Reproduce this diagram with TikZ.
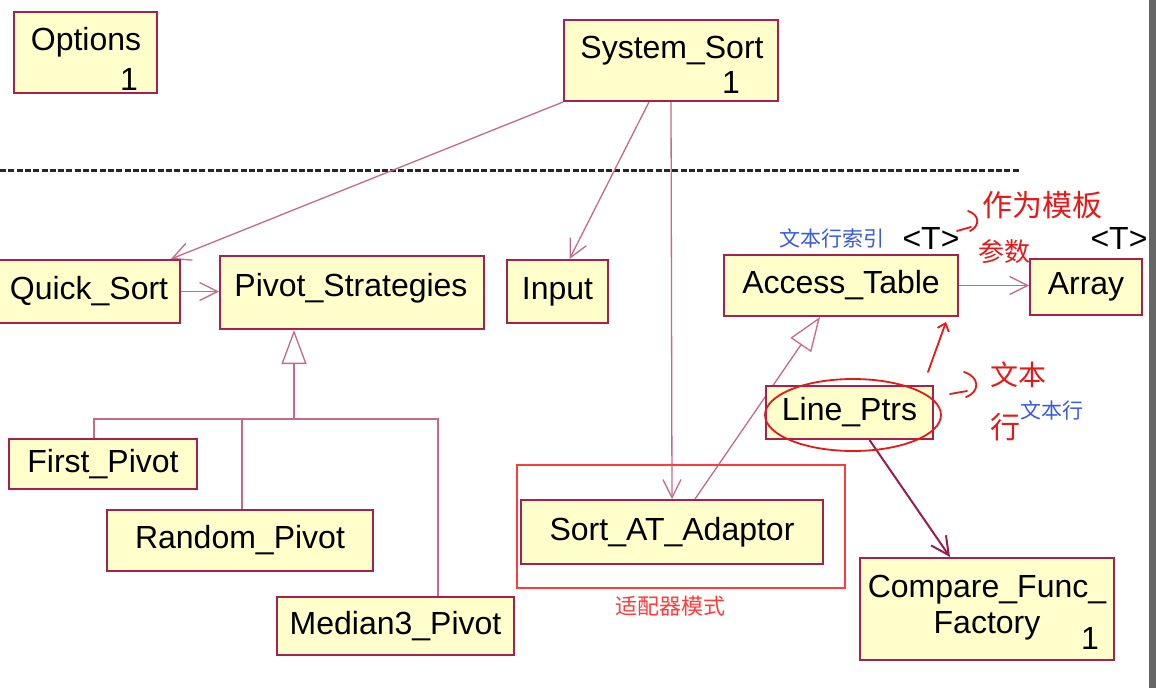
\documentclass[tikz,border=0pt]{standalone}
\usepackage{fontspec}
\setmainfont{Liberation Sans}
\newfontfamily\cjk{Noto Sans CJK SC}
\usetikzlibrary{arrows.meta,backgrounds,calc}
\definecolor{bfill}{HTML}{FFFFCC}
\definecolor{bdraw}{HTML}{A3224F}
\definecolor{lcol}{HTML}{C46A8C}
\definecolor{dcol}{HTML}{95204F}
\definecolor{hred}{HTML}{E21A1A}
\definecolor{rrect}{HTML}{FF3B3B}
\definecolor{blu}{HTML}{3A5BD9}
\definecolor{strip}{HTML}{666666}
\begin{document}
\begin{tikzpicture}[x=1pt,y=-1pt,
  umlbox/.style={draw=bdraw,fill=bfill,line width=2pt,inner sep=0pt},
  txt/.style={font=\fontsize{32}{37}\selectfont,inner sep=0pt},
  assoc/.style={draw=lcol,line width=1.3pt,-{Straight Barb[length=18pt,width=18pt]}},
  dassoc/.style={draw=dcol,line width=2pt,-{Straight Barb[length=18pt,width=18pt]}},
  gen/.style={draw=lcol,line width=1.3pt,-{Triangle[length=34pt,width=25pt,fill=white]}},
  tree/.style={draw=lcol,line width=1.3pt},
  cjklab/.style={font=\cjk\fontsize{21}{24}\selectfont,inner sep=0pt},
  hand/.style={font=\cjk\fontsize{30}{34}\selectfont,text=hred,inner sep=0pt},
  stroke/.style={draw=hred,line width=1.8pt,line cap=round,line join=round}]
\useasboundingbox (0,0) rectangle (1156,688);

% boxes
\node[umlbox,minimum width=143pt,minimum height=81pt] (opt) at (85.5,52.5) {};
\node[txt] (optname) at (86,42) {Options};
\node[txt] (optmult) at (129,79) {1};

\node[umlbox,minimum width=214pt,minimum height=81pt] (sys) at (671,60.5) {};
\node[txt] (sysname) at (672,51) {System\_Sort};
\node[txt] (sysmult) at (731,82) {1};

\node[umlbox,txt,minimum width=182pt,minimum height=63pt] (quick) at (89,291.5) {Quick\_Sort};
\node[umlbox,minimum width=264pt,minimum height=73pt] (pivot) at (352,292.5) {};
\node[txt] (pivotname) at (351,288) {Pivot\_Strategies};
\node[umlbox,txt,minimum width=101pt,minimum height=63pt] (input) at (557.5,291.5) {Input};
\node[umlbox,txt,minimum width=234pt,minimum height=61pt] (access) at (841,285.5) {Access\_Table};
\node[umlbox,txt,minimum width=112pt,minimum height=56pt] (array) at (1086,287) {Array};
\node[umlbox,txt,minimum width=167pt,minimum height=53pt] (lineptrs) at (849.5,412.5) {Line\_Ptrs};
\node[umlbox,txt,minimum width=188pt,minimum height=50pt] (first) at (103,464) {First\_Pivot};
\node[umlbox,txt,minimum width=266pt,minimum height=61pt] (random) at (240,540.5) {Random\_Pivot};
\node[umlbox,txt,minimum width=237pt,minimum height=58pt] (median) at (395.5,626) {Median3\_Pivot};
\node[umlbox,txt,minimum width=302pt,minimum height=64pt] (sortat) at (672,532) {Sort\_AT\_Adaptor};
\node[umlbox,minimum width=254pt,minimum height=102pt] (compare) at (987,609) {};
\node[txt] (cmp1) at (987,590) {Compare\_Func\_};
\node[txt] (cmp2) at (987,626) {Factory};
\node[txt] (cmpmult) at (1090,638) {1};

% template labels
\node[txt] (t1) at (931,238) {<T>};
\node[txt] (t2) at (1119,238) {<T>};
\node[cjklab,text=blu] (idx) at (832,238) {文本行索引};
\node[cjklab,text=blu] (lineslab) at (1052,410) {文本行};
\node[cjklab,text=rrect,font=\cjk\fontsize{22}{25}\selectfont] (adlab) at (670,606) {适配器模式};

\begin{pgfonlayer}{background}
  \fill[white] (0,0) rectangle (1156,688);
  \draw[black!85,line width=3pt,dash pattern=on 6pt off 2.3pt] (0,170) -- (1020,170);
  \draw[assoc] (sys.south west) -- ($(quick.north east)+(-10,0)$);
  \draw[assoc] ($(sys.south west)+(86,0)$) -- ($(input.north)+(12,0)$);
  \draw[assoc] (sys.south) -- (sortat.north);
  \draw[assoc] (quick.east) -- (pivot.west |- quick.east);
  \draw[assoc] (access.east) -- (array.west |- access.east);
  \draw[gen] ($(sortat.north)+(23,0)$) -- ($(access.south)+(-21,0)$);
  \draw[dassoc] ($(lineptrs.south)+(20,0)$) -- ($(compare.north)+(-37,0)$);
  \coordinate (pj) at ($(pivot.south)+(-58,89)$);
  \coordinate (fb) at ($(first.north)+(-9,0)$);
  \coordinate (rb) at ($(random.north)+(2,0)$);
  \coordinate (mb) at ($(median.north)+(42.5,0)$);
  \draw[gen] (pj) -- ($(pivot.south)+(-58,0)$);
  \draw[tree] (fb) |- (pj) -| (mb);
  \draw[tree] (rb) -- (rb |- pj);
\end{pgfonlayer}

% annotations
\draw[rrect,line width=2.5pt] (517,465) rectangle (845,588);
\draw[stroke] (853,415) ellipse [x radius=88, y radius=36];
\draw[stroke,-{Straight Barb[length=7pt,width=12pt]}] (928,372) -- (946,322);
\draw[stroke] (957,231) -- (971,227);
\draw[stroke] (968,211) .. controls (980,215) and (980,226) .. (970,231);
\draw[stroke] (950,394) -- (967,391);
\draw[stroke] (964,372) .. controls (980,377) and (980,392) .. (966,397);
\node[hand] (h1) at (1042,205) {作为模板};
\node[hand,font=\cjk\fontsize{26}{30}\selectfont] (h2) at (1004,252) {参数};
\node[hand,font=\cjk\fontsize{28}{32}\selectfont] (h3) at (1018,375) {文本};
\node[hand] (h4) at (1005,427) {行};

\fill[strip] (1149,0) rectangle (1156,688);
\end{tikzpicture}
\end{document}
